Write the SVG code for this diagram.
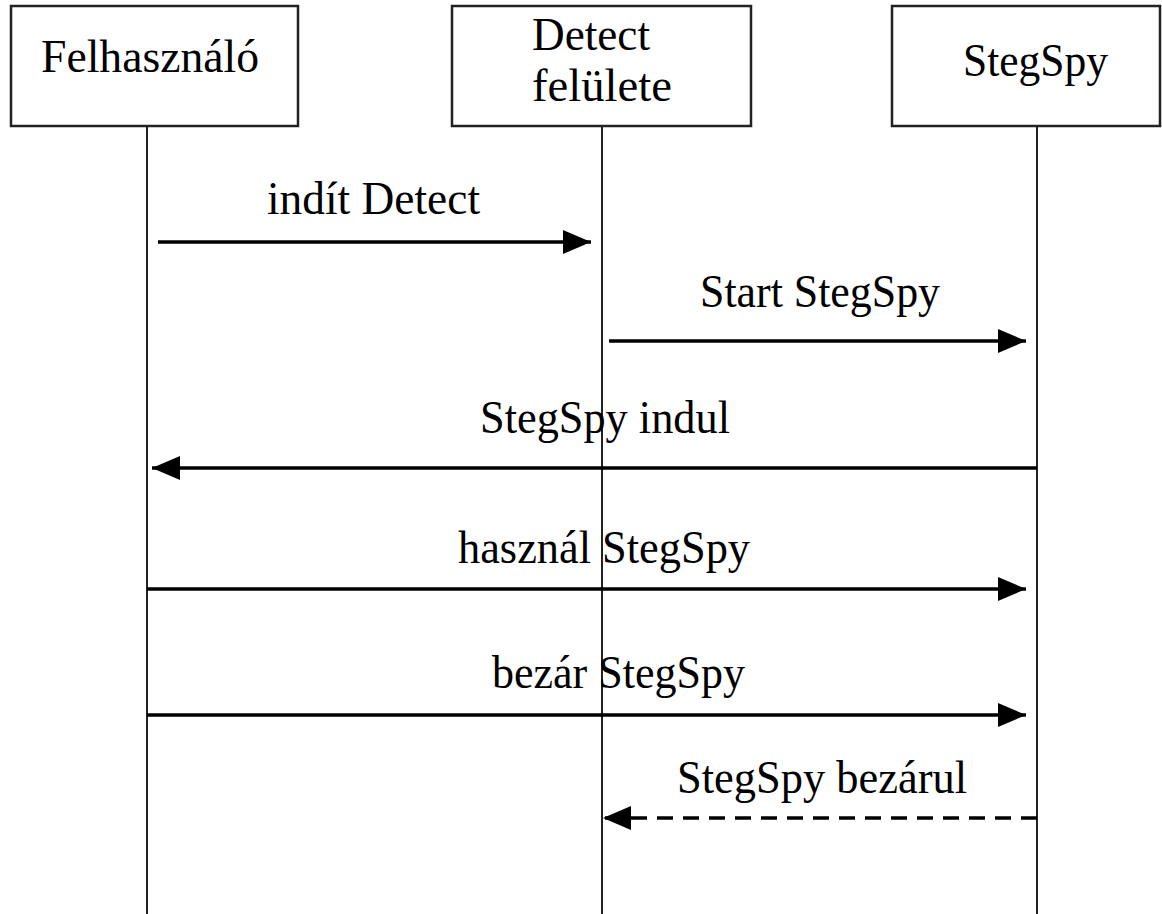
<svg xmlns="http://www.w3.org/2000/svg" width="1162" height="914" viewBox="0 0 1162 914">
<style>
.box{fill:#fff;stroke:#222;stroke-width:2.5}
.life{stroke:#222;stroke-width:2}
.msg{stroke:#000;stroke-width:3.5;fill:none}
.dash{stroke-dasharray:16 10}
text{font-family:"Liberation Serif","Times New Roman",serif;fill:#000}
.n{font-size:47px}
.l{font-size:46px}
</style>
<defs>
<marker id="ah" markerUnits="userSpaceOnUse" markerWidth="30" markerHeight="26" refX="28" refY="12" orient="auto">
<path d="M0,0 L28,12 L0,24 Z" fill="#000"/>
</marker>
</defs>
<rect width="1162" height="914" fill="#fff"/>
<g id="felhasznalo">
<rect class="box" x="11" y="6" width="287" height="120"/>
<line class="life" x1="147" y1="126" x2="147" y2="914"/>
<text class="n" x="41" y="72" textLength="218" lengthAdjust="spacingAndGlyphs">Felhasználó</text>
</g>
<g id="detect">
<rect class="box" x="452" y="6" width="299" height="120"/>
<line class="life" x1="602" y1="126" x2="602" y2="914"/>
<text class="n" x="532" y="50" textLength="118" lengthAdjust="spacingAndGlyphs">Detect</text>
<text class="n" x="532" y="101" textLength="140" lengthAdjust="spacingAndGlyphs">felülete</text>
</g>
<g id="stegspy">
<rect class="box" x="892" y="6" width="268" height="120"/>
<line class="life" x1="1037" y1="126" x2="1037" y2="914"/>
<text class="n" x="963" y="76" textLength="145" lengthAdjust="spacingAndGlyphs">StegSpy</text>
</g>
<g id="connectors">
<line class="msg" x1="158" y1="242" x2="591" y2="242" marker-end="url(#ah)"/>
<line class="msg" x1="609" y1="341" x2="1026" y2="341" marker-end="url(#ah)"/>
<line class="msg" x1="1037" y1="468" x2="152" y2="468" marker-end="url(#ah)"/>
<line class="msg" x1="147" y1="589" x2="1026" y2="589" marker-end="url(#ah)"/>
<line class="msg" x1="147" y1="715" x2="1026" y2="715" marker-end="url(#ah)"/>
<line class="msg dash" x1="1037" y1="818" x2="603" y2="818" marker-end="url(#ah)"/>
<text class="l" x="267" y="214" textLength="213" lengthAdjust="spacingAndGlyphs">indít Detect</text>
<text class="l" x="700" y="307" textLength="240" lengthAdjust="spacingAndGlyphs">Start StegSpy</text>
<text class="l" x="480" y="433" textLength="250" lengthAdjust="spacingAndGlyphs">StegSpy indul</text>
<text class="l" x="458" y="563" textLength="292" lengthAdjust="spacingAndGlyphs">használ StegSpy</text>
<text class="l" x="492" y="688" textLength="253" lengthAdjust="spacingAndGlyphs">bezár StegSpy</text>
<text class="l" x="677" y="793" textLength="290" lengthAdjust="spacingAndGlyphs">StegSpy bezárul</text>
</g>
</svg>
